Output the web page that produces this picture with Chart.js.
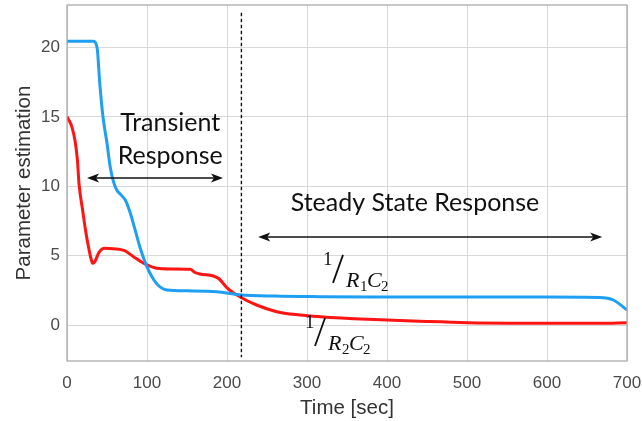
<!DOCTYPE html>
<html>
<head>
<meta charset="utf-8">
<script src="https://cdn.jsdelivr.net/npm/chart.js@4/dist/chart.umd.min.js"></script>
<style>
  html, body { margin: 0; padding: 0; background: #fff; }
  #wrap { width: 642px; height: 421px; }
</style>
</head>
<body>
<div id="wrap"><canvas id="est"></canvas></div>
<script>
// 1/(R1*C2) estimate (blue)
const r1c2Time = [0, 33, 36, 38, 41, 45, 50, 54, 58, 62, 68, 73, 79, 85, 91, 100, 112, 125, 150, 187, 216, 260, 316, 400, 500, 600, 666, 683, 700];
const r1c2Vals = [20.45, 20.45, 20.3, 19.8, 17.4, 15.0, 13.1, 11.4, 10.35, 9.75, 9.35, 9.0, 8.1, 6.9, 5.65, 4.2, 3.0, 2.54, 2.48, 2.42, 2.2, 2.1, 2.06, 2.04, 2.03, 2.03, 2.0, 1.82, 1.1];

// 1/(R2*C2) estimate (red)
const r2c2Time = [0, 3, 6, 10, 13, 15, 20, 23, 27, 30, 32, 35, 40, 47, 58, 72, 83, 92, 100, 112, 130, 154, 160, 166, 183, 190, 200, 216, 237, 262, 291, 316, 375, 450, 500, 600, 666, 700];
const r2c2Vals = [15, 14.7, 14.3, 13.3, 11.9, 10.2, 8.1, 6.9, 5.6, 4.8, 4.46, 4.6, 5.25, 5.54, 5.5, 5.37, 4.94, 4.6, 4.34, 4.1, 4.05, 4.03, 3.8, 3.69, 3.55, 3.35, 2.7, 2.06, 1.46, 0.98, 0.74, 0.62, 0.43, 0.27, 0.19, 0.15, 0.14, 0.19];

const xTicks = [0, 100, 200, 300, 400, 500, 600, 700];
const yTicks = [0, 5, 10, 15, 20];

const toPoints = (ts, vs) => ts.map((t, i) => ({ x: t, y: vs[i] }));

function arrow(ctx, x0, x1, y) {
  ctx.beginPath();
  ctx.moveTo(x0 + 6, y);
  ctx.lineTo(x1 - 6, y);
  ctx.stroke();
  [[x0, 1], [x1, -1]].forEach(([x, d]) => {
    ctx.beginPath();
    ctx.moveTo(x, y);
    ctx.lineTo(x + d * 12, y - 4.5);
    ctx.lineTo(x + d * 9, y);
    ctx.lineTo(x + d * 12, y + 4.5);
    ctx.closePath();
    ctx.fill();
  });
}

// "1/R_k C_2" fraction label, anchored at the left of the "1"
function fracLabel(ctx, x, y, sub) {
  ctx.fillStyle = "#111";
  ctx.textBaseline = "alphabetic";
  ctx.textAlign = "left";
  ctx.font = "19px 'Liberation Serif'";
  ctx.fillText("1", x, y);
  ctx.lineWidth = 1.8;
  ctx.beginPath();
  ctx.moveTo(x + 10, y + 18);
  ctx.lineTo(x + 20, y - 10);
  ctx.stroke();
  ctx.font = "italic 22px 'Liberation Serif'";
  ctx.fillText("R", x + 23, y + 22);
  ctx.font = "15px 'Liberation Serif'";
  ctx.fillText(sub, x + 37, y + 26);
  ctx.font = "italic 22px 'Liberation Serif'";
  ctx.fillText("C", x + 44, y + 22);
  ctx.font = "15px 'Liberation Serif'";
  ctx.fillText("2", x + 58, y + 26);
}

const notes = {
  id: "notes",
  afterDatasetsDraw(chart) {
    const { ctx, chartArea: a, scales: { x, y } } = chart;
    ctx.save();
    // plot box
    ctx.strokeStyle = "#a4a4a4";
    ctx.lineWidth = 1.2;
    ctx.strokeRect(a.left, a.top, a.right - a.left, a.bottom - a.top);

    // boundary between transient and steady state
    ctx.strokeStyle = "#111";
    ctx.lineWidth = 1.4;
    ctx.setLineDash([3.5, 2.5]);
    ctx.beginPath();
    ctx.moveTo(x.getPixelForValue(218), y.getPixelForValue(22.5));
    ctx.lineTo(x.getPixelForValue(218), y.getPixelForValue(-2.3));
    ctx.stroke();
    ctx.setLineDash([]);

    ctx.fillStyle = "#111";
    ctx.lineWidth = 1.6;
    arrow(ctx, x.getPixelForValue(25), x.getPixelForValue(195), y.getPixelForValue(10.6));
    arrow(ctx, x.getPixelForValue(239), x.getPixelForValue(669), y.getPixelForValue(6.35));

    ctx.font = "25px Lato";
    ctx.textAlign = "center";
    ctx.textBaseline = "middle";
    ctx.fillText("Transient", x.getPixelForValue(129), y.getPixelForValue(14.55));
    ctx.fillText("Response", x.getPixelForValue(129), y.getPixelForValue(12.2));
    ctx.fillText("Steady State Response", x.getPixelForValue(435), y.getPixelForValue(8.8));

    fracLabel(ctx, x.getPixelForValue(320), y.getPixelForValue(4.35), "1");
    fracLabel(ctx, x.getPixelForValue(297.5), y.getPixelForValue(-0.2), "2");
    ctx.restore();
  }
};

const tickFont = { family: "'Liberation Sans', Arial", size: 17 };
const titleFont = { family: "'Liberation Sans', Arial", size: 20.5 };

new Chart(document.getElementById("est"), {
  type: "line",
  data: {
    datasets: [
      {
        label: "1/R1C2",
        data: toPoints(r1c2Time, r1c2Vals),
        borderColor: "#1e9ff2",
        borderWidth: 3,
        pointRadius: 0,
        cubicInterpolationMode: "monotone",
      },
      {
        label: "1/R2C2",
        data: toPoints(r2c2Time, r2c2Vals),
        borderColor: "#ff1414",
        borderWidth: 3,
        pointRadius: 0,
        cubicInterpolationMode: "monotone",
      }
    ]
  },
  options: {
    responsive: true,
    maintainAspectRatio: false,
    animation: false,
    layout: { padding: { top: 5, right: 15, left: 0, bottom: 0 } },
    plugins: { legend: { display: false }, tooltip: { enabled: false } },
    scales: {
      x: {
        type: "linear",
        min: 0,
        max: 700,
        afterBuildTicks: (s) => { s.ticks = xTicks.map(v => ({ value: v })); },
        afterFit: (s) => { s.height = 60; s.paddingLeft = 0; s.paddingRight = 0; },
        grid: { color: "#d8d8d8", drawTicks: false },
        border: { display: false },
        ticks: { color: "#4a4a4a", font: tickFont, padding: 12, maxRotation: 0 },
        title: { display: true, text: "Time [sec]", color: "#333", font: titleFont, padding: 0 }
      },
      y: {
        type: "linear",
        min: -2.57,
        max: 23.05,
        afterBuildTicks: (s) => { s.ticks = yTicks.map(v => ({ value: v })); },
        afterFit: (s) => { s.width = 67; s.paddingTop = 0; s.paddingBottom = 0; },
        grid: { color: "#d8d8d8", drawTicks: false },
        border: { display: false },
        ticks: { color: "#4a4a4a", font: tickFont, padding: 7 },
        title: { display: true, text: "Parameter estimation", color: "#333", font: titleFont, padding: { top: 12, bottom: 0 } }
      }
    }
  },
  plugins: [notes]
});
</script>
</body>
</html>
